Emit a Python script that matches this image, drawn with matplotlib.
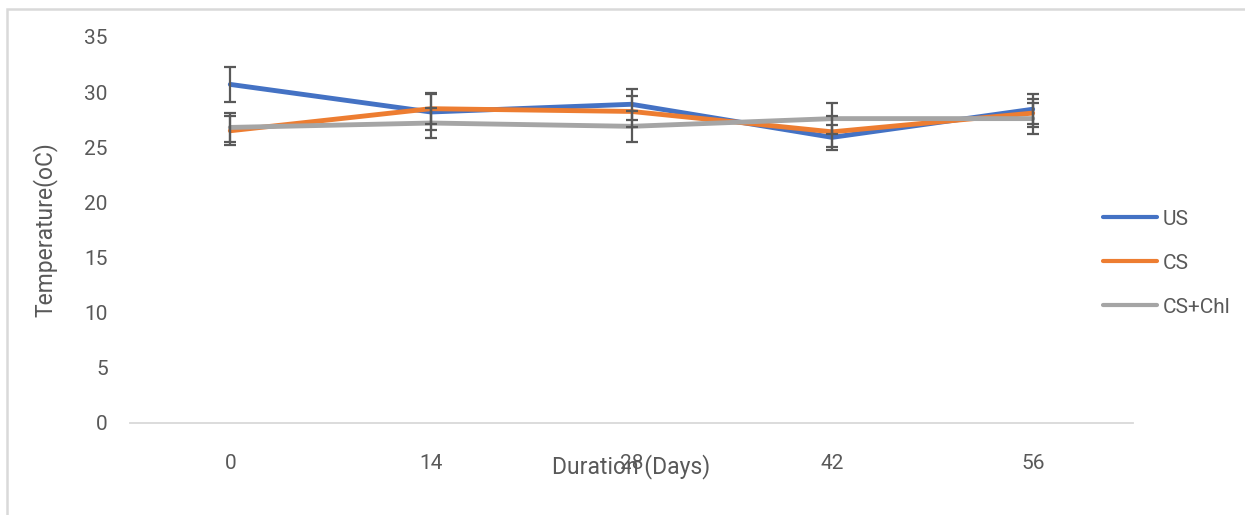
#!/usr/bin/env python3

# Temperature over storage duration, three treatments with error bars

import numpy as np
from matplotlib import pyplot as plt
import matplotlib.patches as patches

days = ["0", "14", "28", "42", "56"]
series = ["US", "CS", "CS+Chl"]

us = [30.7, 28.2, 28.9, 25.9, 28.45]
cs = [26.5, 28.5, 28.25, 26.4, 28.1]
cs_chl = [26.8, 27.2, 26.9, 27.6, 27.6]

us_err = [1.55, 1.6, 1.4, 1.15, 1.35]
cs_err = [1.3, 1.4, 1.4, 1.4, 1.3]
cs_chl_err = [1.35, 1.35, 1.4, 1.4, 1.4]

colors = ["#4472C4", "#ED7D31", "#A5A5A5"]
text_col = "#595959"

plt.rcParams["font.family"] = ["Roboto", "DejaVu Sans"]

fig = plt.figure(figsize=(12.45, 5.15), dpi=100)
ax = fig.add_axes([130 / 1245, 92 / 515, 1003 / 1245, 386 / 515])

# light frame round the whole chart
fig.patches.append(
    patches.Rectangle((7 / 1245, -0.1), 1.2, (515 - 9) / 515 + 0.1,
                      transform=fig.transFigure, fill=False,
                      edgecolor="#d9d9d9", lw=1.8)
)

x = np.arange(len(days))
vals = [us, cs, cs_chl]
errs = [us_err, cs_err, cs_chl_err]

for i, (name, v, c) in enumerate(zip(series, vals, colors)):
    ax.plot(x, v, color=c, lw=3.5, label=name, zorder=2 + i,
            solid_capstyle="round")

for v, e in zip(vals, errs):
    ax.errorbar(x, v, yerr=e, fmt="none", ecolor=text_col, elinewidth=1.6,
                capsize=4.5, capthick=1.6, zorder=6)

ax.set_xlim(-0.5, len(days) - 0.5)
ax.set_ylim(0, 35)
ax.set_yticks(np.arange(0, 36, 5))
ax.set_xticks(x)
ax.set_xticklabels(days)

for s in ["top", "right", "left"]:
    ax.spines[s].set_visible(False)
ax.spines["bottom"].set_color("#d9d9d9")
ax.spines["bottom"].set_linewidth(1.3)

ax.tick_params(axis="both", length=0, labelsize=15, labelcolor=text_col)
ax.tick_params(axis="y", pad=16)
ax.tick_params(axis="x", pad=22)

ax.set_xlabel("Duration (Days)", fontsize=16.5, color=text_col)
ax.xaxis.label.set_va("center")
ax.xaxis.set_label_coords(0.5, -0.114)
ax.set_ylabel("Temperature(oC)", fontsize=16.5, color=text_col)
ax.yaxis.label.set_va("center")
ax.yaxis.set_label_coords(-0.085, 0.5)

leg = fig.legend(loc="center left", bbox_to_anchor=(1103 / 1245, 0.489),
                 frameon=False, fontsize=15, handlelength=2.6,
                 handletextpad=0.25, labelspacing=1.2, borderpad=0,
                 borderaxespad=0)
for line in leg.get_lines():
    line.set_linewidth(3)
for t in leg.get_texts():
    t.set_color(text_col)

plt.savefig("out.png", dpi=100)
